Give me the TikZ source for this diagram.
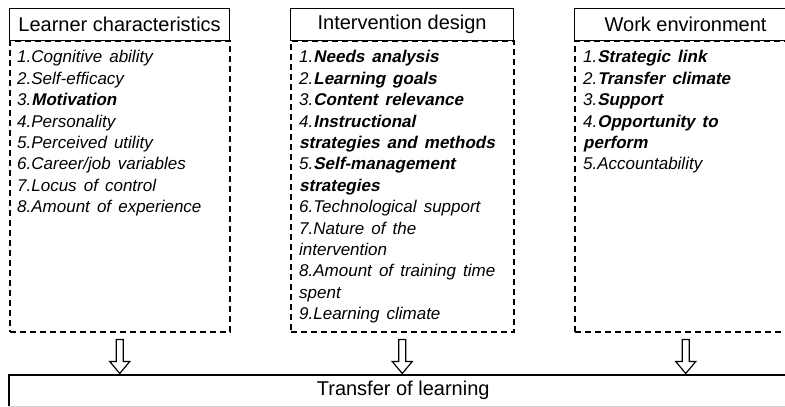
\documentclass[tikz,border=0pt]{standalone}
\usepackage{fontspec}
\setmainfont{Liberation Sans}
\newfontfamily\itemfont[WordSpace=1.5]{Liberation Sans}
\newfontfamily\bifont[WordSpace=1.5, FakeSlant=0.21]{Liberation Sans Bold}
\newcommand\firstline{\rule{0pt}{13pt}}
\newcommand\bi[1]{{\bifont\upshape #1}}
\begin{document}
\begin{tikzpicture}[x=1pt,y=-1pt,
  headbox/.style={draw, line width=1.2pt, minimum height=32pt, inner sep=0pt,
    anchor=north west, font=\fontsize{20}{24}\selectfont},
  dashbox/.style={draw, dash pattern=on 6pt off 4pt, line width=1.5pt,
    minimum height=291pt, inner sep=0pt, anchor=north west},
  itemtext/.style={anchor=north west, inner sep=0pt, align=left,
    font=\itemfont\itshape\fontsize{17}{21.4}\selectfont},
  arrowshape/.style={draw, line width=1.2pt, fill=white, line join=miter}
]
\useasboundingbox (0,0) rectangle (785,407);
\clip (0,0) rectangle (785,407);

% Learner characteristics
\node[dashbox, minimum width=220pt] (lbody) at (9,40) {};
\node[headbox, fill=white, minimum width=220pt] (lhead) at (9,8) {Learner characteristics};
\node[itemtext] (litems) at (17,49.7) {\firstline 1.Cognitive ability\\
2.Self-efficacy\\
3.\bi{Motivation}\\
4.Personality\\
5.Perceived utility\\
6.Career/job variables\\
7.Locus of control\\
8.Amount of experience};

% Intervention design
\node[dashbox, minimum width=223pt] (mbody) at (290,40) {};
\node[headbox, fill=white, minimum width=223pt] (mhead) at (290,8) {Intervention design};
\node[itemtext] (mitems) at (299,49.7) {\firstline 1.\bi{Needs analysis}\\
2.\bi{Learning goals}\\
3.\bi{Content relevance}\\
4.\bi{Instructional}\\
\bi{strategies and methods}\\
5.\bi{Self-management}\\
\bi{strategies}\\
6.Technological support\\
7.Nature of the\\
intervention\\
8.Amount of training time\\
spent\\
9.Learning climate};

% Work environment
\node[dashbox, minimum width=222pt] (rbody) at (574,40) {};
\node[headbox, fill=white, minimum width=222pt] (rhead) at (574,8) {Work environment};
\node[itemtext] (ritems) at (583,49.7) {\firstline 1.\bi{Strategic link}\\
2.\bi{Transfer climate}\\
3.\bi{Support}\\
4.\bi{Opportunity to}\\
\bi{perform}\\
5.Accountability};

% Transfer of learning
\node[inner sep=0pt, minimum width=788pt, minimum height=31pt, anchor=north west,
  font=\fontsize{20}{24}\selectfont] (tl) at (9,375) {Transfer of learning};
\draw[line width=1.2pt] (tl.south west) -- (tl.north west) -- (tl.north east) -- (tl.south east);
\draw[gray!35, line width=1pt] (tl.south west) -- (tl.south east);

% Arrows
\foreach \b in {lbody, mbody, rbody}{
  \draw[arrowshape, shift={(\b.south)}] (-3.5,7) -- (3.5,7) -- (3.5,29) -- (10,29)
    -- (0,41) -- (-10,29) -- (-3.5,29) -- cycle;
}
\end{tikzpicture}
\end{document}
